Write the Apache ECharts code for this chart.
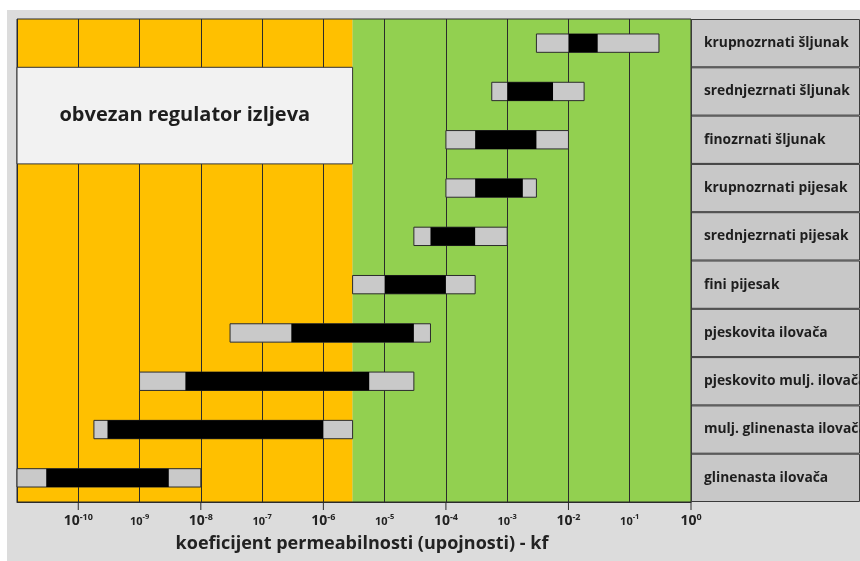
<!DOCTYPE html>
<html>
<head>
<meta charset="utf-8">
<script src="https://cdn.jsdelivr.net/npm/echarts@6/dist/echarts.min.js"></script>
<style>
  html, body { margin: 0; padding: 0; background: #fff; }
  #main { width: 860px; height: 561px; }
</style>
</head>
<body>
<div id="main"></div>
<script>
// soil types, top row first
var categories = ['krupnozrnati šljunak', 'srednjezrnati šljunak', 'finozrnati šljunak',
  'krupnozrnati pijesak', 'srednjezrnati pijesak', 'fini pijesak', 'pjeskovita ilovača',
  'pjeskovito mulj. ilovača', 'mulj. glinenasta ilovača', 'glinenasta ilovača'];

// kf ranges (m/s): grey = full range, black = typical range
var rangeLow  = [3e-3, 5.6e-4, 1e-4, 1e-4,   3e-5,   3e-6, 3e-8,   1e-9,   1.8e-10, 1e-11];
var coreLow   = [1e-2, 1e-3,   3e-4, 3e-4,   5.6e-5, 1e-5, 3e-7,   5.6e-9, 3e-10,   3e-11];
var coreHigh  = [3e-2, 5.6e-3, 3e-3, 1.8e-3, 3e-4,   1e-4, 3e-5,   5.6e-6, 1e-6,    3e-9];
var rangeHigh = [3e-1, 1.8e-2, 1e-2, 3e-3,   1e-3,   3e-4, 5.6e-5, 3e-5,   3e-6,    1e-8];

// axis (log10 of kf) and background zones
var axisMinExp = -11;
var axisMaxExp = 0;
var bigTickExps = [-10, -8, -6, -4, -2, 0];
var zoneEdges = [1e-11, 3e-6, 1];
var zoneColors = ['#FFC000', '#92D050'];
var regulatorRows = ['srednjezrnati šljunak', 'finozrnati šljunak'];
var regulatorText = 'obvezan regulator izljeva';

var font = 'Open Sans';
var chart = echarts.init(document.getElementById('main'));

function lg(v) { return Math.log10(v); }

var barData = categories.map(function (c, i) {
  return [i, lg(rangeLow[i]), lg(coreLow[i]), lg(coreHigh[i]), lg(rangeHigh[i])];
});
var zoneData = [];
for (var z = 0; z < zoneColors.length; z++) {
  zoneData.push([lg(zoneEdges[z]), lg(zoneEdges[z + 1]), z]);
}

function renderZone(params, api) {
  var cs = params.coordSys;
  var a = api.coord([api.value(0), 0]);
  var b = api.coord([api.value(1), 0]);
  return {
    type: 'rect',
    shape: { x: a[0], y: cs.y, width: b[0] - a[0], height: cs.height },
    style: { fill: zoneColors[api.value(2)] }
  };
}

function renderBar(params, api) {
  var y = api.value(0);
  var p0 = api.coord([api.value(1), y]);
  var p1 = api.coord([api.value(2), y]);
  var p2 = api.coord([api.value(3), y]);
  var p3 = api.coord([api.value(4), y]);
  var h = api.size([0, 1])[1] * 0.38;
  return {
    type: 'group',
    children: [
      { type: 'rect', shape: { x: p0[0], y: p0[1] - h / 2, width: p3[0] - p0[0], height: h },
        style: { fill: '#C9C9C9', stroke: '#2b2b2b', lineWidth: 1 } },
      { type: 'rect', shape: { x: p1[0], y: p1[1] - h / 2, width: p2[0] - p1[0], height: h },
        style: { fill: '#000' } }
    ]
  };
}

function renderRegulator(params, api) {
  var rowH = api.size([0, 1])[1];
  var t = api.coord([api.value(0), api.value(2)]);
  var b = api.coord([api.value(1), api.value(3)]);
  var x0 = t[0], x1 = b[0];
  var y0 = t[1] - rowH / 2, y1 = b[1] + rowH / 2;
  return {
    type: 'group',
    children: [
      { type: 'rect', shape: { x: x0, y: y0, width: x1 - x0, height: y1 - y0 },
        style: { fill: '#F2F2F2', stroke: '#333', lineWidth: 1 } },
      { type: 'text', x: (x0 + x1) / 2, y: (y0 + y1) / 2,
        style: { text: regulatorText, font: 'bold 20px ' + font, fill: '#1e1e1e',
          align: 'center', verticalAlign: 'middle' } }
    ]
  };
}

function renderBigTick(params, api) {
  var cs = params.coordSys;
  var p = api.coord([api.value(0), 0]);
  var yb = cs.y + cs.height;
  return {
    type: 'line',
    shape: { x1: p[0], y1: yb, x2: p[0], y2: yb + 8 },
    style: { stroke: '#2b2b2b', lineWidth: 1 }
  };
}

var option = {
  backgroundColor: '#DCDCDC',
  animation: false,
  graphic: [
    { type: 'rect', left: 0, top: 0, shape: { width: 860, height: 10 }, style: { fill: '#fff' } },
    { type: 'rect', left: 0, top: 0, shape: { width: 7, height: 561 }, style: { fill: '#fff' } }
  ],
  grid: [
    { left: 17, top: 19, right: 169, bottom: 59, show: true, z: 1,
      backgroundColor: 'transparent', borderColor: '#2b2b2b', borderWidth: 1 },
    { left: 691, top: 19, width: 200, bottom: 59 }
  ],
  xAxis: [
    {
      gridIndex: 0,
      type: 'value',
      min: axisMinExp,
      max: axisMaxExp,
      interval: 1,
      z: 1,
      axisLine: { show: true, lineStyle: { color: '#2b2b2b', width: 1 } },
      axisTick: { show: false },
      splitLine: { show: true, lineStyle: { color: '#2b2b2b', width: 1 } },
      axisLabel: {
        margin: 11,
        formatter: function (v) {
          if (v === axisMinExp) return '';
          return v % 2 === 0 ? '{a|10}{as|' + v + '}' : '{b|10}{bs|' + v + '}';
        },
        rich: {
          a: { fontFamily: font, fontSize: 14, fontWeight: 'bold', color: '#222', lineHeight: 17 },
          as: { fontFamily: font, fontSize: 9, fontWeight: 'bold', color: '#222', verticalAlign: 'top' },
          b: { fontFamily: font, fontSize: 11, fontWeight: 'bold', color: '#222', lineHeight: 17 },
          bs: { fontFamily: font, fontSize: 7.5, fontWeight: 'bold', color: '#222', verticalAlign: 'top' }
        }
      },
      name: 'koeficijent permeabilnosti (upojnosti) - kf',
      nameLocation: 'middle',
      nameGap: 33,
      nameTextStyle: { fontFamily: font, fontSize: 18, fontWeight: 'bold', color: '#222', padding: [0, 0, 0, 16] }
    },
    { gridIndex: 1, type: 'value', min: 0, max: 1, show: false }
  ],
  yAxis: [
    { gridIndex: 0, type: 'category', inverse: true, data: categories, show: false },
    { gridIndex: 1, type: 'category', inverse: true, data: categories, show: false }
  ],
  series: [
    {
      type: 'custom', name: 'zones', xAxisIndex: 0, yAxisIndex: 0, z: 0, silent: true,
      renderItem: renderZone, encode: { x: [0, 1] }, data: zoneData
    },
    {
      type: 'custom', name: 'kf', xAxisIndex: 0, yAxisIndex: 0, z: 2, silent: true,
      renderItem: renderBar, encode: { x: [1, 2, 3, 4], y: 0 }, data: barData
    },
    {
      type: 'custom', name: 'regulator', xAxisIndex: 0, yAxisIndex: 0, z: 3, silent: true,
      renderItem: renderRegulator, encode: { x: [0, 1] },
      data: [[lg(zoneEdges[0]), lg(zoneEdges[1]),
        categories.indexOf(regulatorRows[0]), categories.indexOf(regulatorRows[1])]]
    },
    {
      type: 'custom', name: 'ticks', xAxisIndex: 0, yAxisIndex: 0, z: 3, silent: true, clip: false,
      renderItem: renderBigTick, encode: { x: 0 }, data: bigTickExps.map(function (e) { return [e]; })
    },
    {
      type: 'bar', name: 'labels', xAxisIndex: 1, yAxisIndex: 1, silent: true,
      barCategoryGap: '0%',
      itemStyle: { color: '#C8C8C8', borderColor: '#3a3a3a', borderWidth: 1 },
      label: {
        show: true, position: 'insideLeft', distance: 13, formatter: '{b}',
        fontFamily: font, fontSize: 13.8, fontWeight: 'bold', color: '#1e1e1e'
      },
      data: categories.map(function (c) { return { name: c, value: 1 }; })
    }
  ]
};

chart.setOption(option);
</script>
</body>
</html>
